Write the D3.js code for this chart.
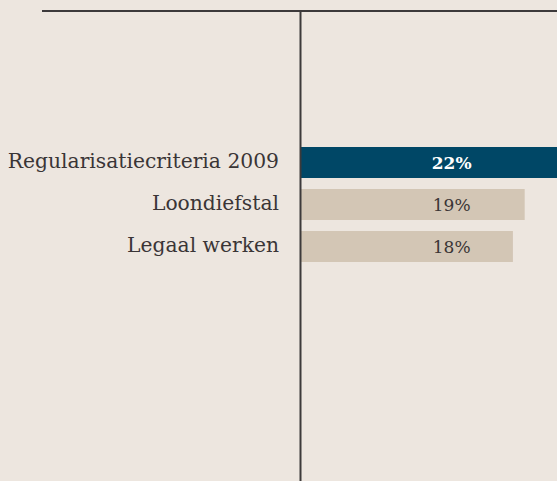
<!DOCTYPE html>
<html>
<head>
<meta charset="utf-8">
<script src="https://cdn.jsdelivr.net/npm/d3@7"></script>
<style>
  html, body { margin:0; padding:0; background:#ede6df; }
  svg { display:block; }
</style>
</head>
<body>
<div id="chart"></div>
<script>
// data
var categories = ["Regularisatiecriteria 2009", "Loondiefstal", "Legaal werken"];
var values = [22, 19, 18];
var valueLabels = ["22%", "19%", "18%"];

var w = 557, h = 481;
var axisX = 301;

var svg = d3.select("#chart")
    .append("svg")
    .attr("width", w)
    .attr("height", h)
    .style("background", "#ede6df");

var xScale = d3.scaleLinear()
    .domain([0, 22])
    .range([axisX, 560]);

var yScale = d3.scaleBand()
    .domain(categories)
    .range([141.5, 267.5])
    .paddingInner(0.262)
    .paddingOuter(0.131);

// bars
svg.selectAll("rect.bar")
    .data(values)
    .enter()
    .append("rect")
    .attr("class", "bar")
    .attr("x", xScale(0))
    .attr("y", function(d, i) { return yScale(categories[i]); })
    .attr("width", function(d) { return xScale(d) - xScale(0); })
    .attr("height", yScale.bandwidth())
    .style("fill", function(d, i) { return i === 0 ? "#004766" : "#d3c6b5"; });

// value labels
svg.selectAll("text.val")
    .data(valueLabels)
    .enter()
    .append("text")
    .attr("class", "val")
    .attr("x", xScale(12.8))
    .attr("y", function(d, i) { return yScale(categories[i]) + yScale.bandwidth() / 2 + 6; })
    .attr("text-anchor", "middle")
    .attr("font-family", "DejaVu Serif")
    .attr("font-size", 17)
    .attr("font-weight", function(d, i) { return i === 0 ? "bold" : "normal"; })
    .style("fill", function(d, i) { return i === 0 ? "#ffffff" : "#3a3536"; })
    .text(function(d) { return d; });

// category labels
svg.selectAll("text.cat")
    .data(categories)
    .enter()
    .append("text")
    .attr("class", "cat")
    .attr("x", 279)
    .attr("y", function(d) { return yScale(d) + yScale.bandwidth() / 2 + 5.5; })
    .attr("text-anchor", "end")
    .attr("font-family", "DejaVu Serif")
    .attr("font-size", 20.3)
    .style("fill", "#3a3536")
    .text(function(d) { return d; });

// axes lines
svg.append("line")
    .attr("x1", 42).attr("x2", w)
    .attr("y1", 11).attr("y2", 11)
    .style("stroke", "#3d3a3b")
    .style("stroke-width", 2);

svg.append("line")
    .attr("x1", axisX - 0.5).attr("x2", axisX - 0.5)
    .attr("y1", 11).attr("y2", h)
    .style("stroke", "#3d3a3b")
    .style("stroke-width", 2);
</script>
</body>
</html>
